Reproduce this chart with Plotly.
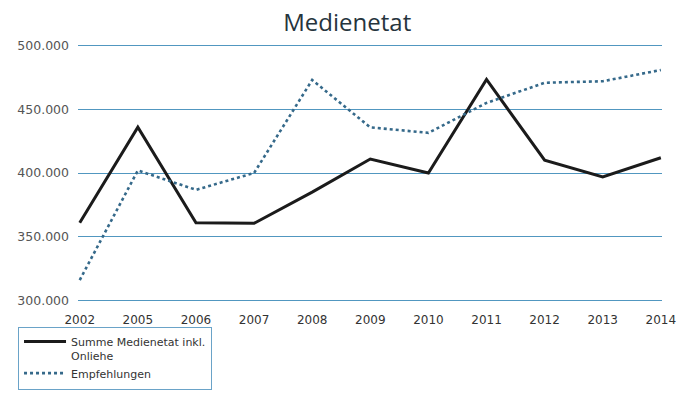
import plotly.graph_objects as go

# Jahre und Werte (Euro)
years = ["2002", "2005", "2006", "2007", "2008", "2009", "2010", "2011", "2012", "2013", "2014"]
summe_medienetat = [361000, 436000, 361000, 360500, 385000, 411000, 400000, 473400, 410000, 397000, 412000]
empfehlungen = [316000, 402000, 386800, 400000, 473000, 435800, 431500, 455000, 470800, 472000, 480800]

y_ticks = [300000, 350000, 400000, 450000, 500000]
y_tick_labels = ["300.000", "350.000", "400.000", "450.000", "500.000"]

x_pos = list(range(len(years)))

fig = go.Figure()
fig.add_trace(go.Scatter(
    x=x_pos, y=summe_medienetat, mode="lines",
    name="Summe Medienetat inkl.<br>Onliehe",
    line=dict(color="#1b1b1b", width=3),
))
fig.add_trace(go.Scatter(
    x=x_pos, y=empfehlungen, mode="lines",
    name="Empfehlungen",
    line=dict(color="#35698a", width=2.6, dash="dot"),
))

fig.update_layout(
    width=689, height=394,
    margin=dict(l=78, r=27, t=43, b=91, autoexpand=False),
    paper_bgcolor="white", plot_bgcolor="white",
    title=dict(
        text="Medienetat", x=0.504, xref="container", xanchor="center",
        y=1 - 23 / 394, yref="container", yanchor="middle",
        font=dict(family="Open Sans", size=24, color="#26343d"),
    ),
    showlegend=True,
    legend=dict(
        x=-0.1027, xanchor="left", y=-0.092, yanchor="top",
        bordercolor="#6aa3c8", borderwidth=1, bgcolor="white",
        font=dict(family="DejaVu Sans", size=11, color="#333"),
        valign="top", tracegroupgap=0, itemwidth=42,
    ),
)
fig.update_xaxes(
    tickmode="array", tickvals=x_pos, ticktext=years,
    range=[-0.03, 10.02], showgrid=False, zeroline=False, showline=False,
    ticklabelstandoff=8,
    tickfont=dict(family="DejaVu Sans", size=12, color="#333"),
)
fig.update_yaxes(
    tickmode="array", tickvals=y_ticks, ticktext=y_tick_labels,
    range=[298000, 502000], showgrid=True, gridcolor="#5197c0", gridwidth=1,
    zeroline=False, showline=False, ticklabelstandoff=8,
    tickfont=dict(family="DejaVu Sans", size=12.5, color="#555"),
)

fig.write_html("out.html")
